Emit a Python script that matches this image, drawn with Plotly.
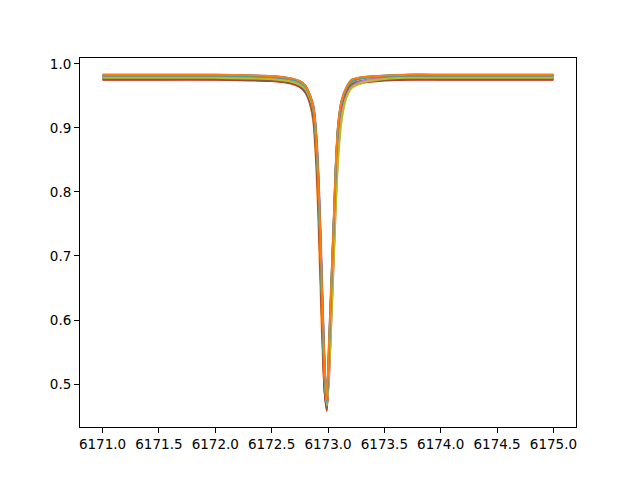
import plotly.graph_objects as go

wavelength = [6171.0, 6171.5, 6172.0, 6172.3, 6172.5, 6172.65, 6172.75, 6172.8, 6172.84, 6172.87,
              6172.89, 6172.91, 6172.93, 6172.95, 6172.97, 6172.99, 6173.01, 6173.03, 6173.05, 6173.07,
              6173.09, 6173.12, 6173.16, 6173.21, 6173.3, 6173.45, 6173.7, 6174.0, 6174.5, 6175.0]

flux_01 = [0.978, 0.978, 0.978, 0.977, 0.975, 0.971, 0.964, 0.955, 0.938, 0.912, 0.87, 0.80, 0.70, 0.585, 0.49,
           0.462, 0.53, 0.625, 0.72, 0.815, 0.88, 0.93, 0.953, 0.966, 0.973, 0.976, 0.978, 0.978, 0.978, 0.978]
flux_02 = [0.983, 0.983, 0.983, 0.982, 0.981, 0.978, 0.973, 0.966, 0.951, 0.933, 0.90, 0.84, 0.745, 0.63, 0.525,
           0.475, 0.57, 0.66, 0.75, 0.845, 0.905, 0.942, 0.962, 0.975, 0.979, 0.981, 0.983, 0.983, 0.983, 0.983]
flux_03 = [0.976, 0.976, 0.976, 0.975, 0.974, 0.971, 0.965, 0.957, 0.938, 0.91, 0.86, 0.78, 0.67, 0.56, 0.49,
           0.47, 0.55, 0.65, 0.745, 0.84, 0.90, 0.938, 0.958, 0.969, 0.973, 0.975, 0.976, 0.976, 0.976, 0.976]
flux_04 = [0.977, 0.977, 0.977, 0.976, 0.975, 0.972, 0.966, 0.958, 0.943, 0.922, 0.88, 0.815, 0.715, 0.60, 0.50,
           0.465, 0.545, 0.64, 0.735, 0.83, 0.893, 0.935, 0.956, 0.968, 0.973, 0.975, 0.977, 0.977, 0.977, 0.977]
flux_05 = [0.975, 0.975, 0.975, 0.974, 0.973, 0.970, 0.964, 0.956, 0.941, 0.92, 0.878, 0.81, 0.705, 0.59, 0.49,
           0.458, 0.535, 0.63, 0.725, 0.82, 0.885, 0.93, 0.952, 0.964, 0.970, 0.973, 0.975, 0.975, 0.975, 0.975]
flux_06 = [0.979, 0.979, 0.979, 0.978, 0.977, 0.974, 0.969, 0.962, 0.949, 0.935, 0.905, 0.85, 0.76, 0.645, 0.535,
           0.47, 0.52, 0.61, 0.70, 0.795, 0.87, 0.925, 0.952, 0.966, 0.973, 0.977, 0.979, 0.979, 0.979, 0.979]
flux_07 = [0.976, 0.976, 0.976, 0.975, 0.974, 0.971, 0.965, 0.957, 0.941, 0.918, 0.875, 0.805, 0.70, 0.585, 0.495,
           0.46, 0.54, 0.635, 0.73, 0.825, 0.888, 0.932, 0.954, 0.966, 0.971, 0.974, 0.976, 0.976, 0.976, 0.976]
flux_08 = [0.980, 0.980, 0.980, 0.979, 0.978, 0.975, 0.970, 0.963, 0.950, 0.933, 0.90, 0.84, 0.745, 0.63, 0.525,
           0.468, 0.51, 0.60, 0.69, 0.785, 0.86, 0.918, 0.948, 0.964, 0.972, 0.977, 0.980, 0.980, 0.980, 0.980]
flux_09 = [0.981, 0.981, 0.981, 0.980, 0.979, 0.976, 0.971, 0.963, 0.948, 0.928, 0.892, 0.83, 0.73, 0.615, 0.515,
           0.472, 0.555, 0.65, 0.745, 0.84, 0.90, 0.94, 0.96, 0.972, 0.977, 0.979, 0.981, 0.981, 0.981, 0.981]
flux_10 = [0.978, 0.978, 0.978, 0.977, 0.976, 0.973, 0.967, 0.960, 0.946, 0.928, 0.89, 0.828, 0.73, 0.615, 0.51,
           0.466, 0.52, 0.60, 0.69, 0.78, 0.85, 0.91, 0.945, 0.962, 0.970, 0.975, 0.978, 0.978, 0.978, 0.978]
flux_11 = [0.982, 0.982, 0.982, 0.981, 0.980, 0.977, 0.971, 0.964, 0.950, 0.932, 0.896, 0.835, 0.738, 0.622, 0.518,
           0.47, 0.56, 0.655, 0.748, 0.842, 0.902, 0.94, 0.96, 0.973, 0.978, 0.980, 0.982, 0.982, 0.982, 0.982]
flux_12 = [0.983, 0.983, 0.983, 0.982, 0.981, 0.978, 0.973, 0.966, 0.951, 0.933, 0.90, 0.84, 0.745, 0.63, 0.525,
           0.475, 0.57, 0.66, 0.75, 0.845, 0.905, 0.942, 0.962, 0.975, 0.979, 0.981, 0.983, 0.983, 0.983, 0.983]

series = [flux_01, flux_03, flux_04, flux_05, flux_06, flux_07, flux_08, flux_09, flux_10, flux_11, flux_02, flux_12]
colors = ["#1f77b4", "#ff7f0e", "#2ca02c", "#d62728", "#9467bd",
          "#8c564b", "#e377c2", "#7f7f7f", "#bcbd22", "#17becf"]

x_ticks = [6171.0, 6171.5, 6172.0, 6172.5, 6173.0, 6173.5, 6174.0, 6174.5, 6175.0]
y_ticks = [0.5, 0.6, 0.7, 0.8, 0.9, 1.0]

fig = go.Figure()
for i, f in enumerate(series):
    fig.add_trace(go.Scatter(
        x=wavelength, y=f, mode="lines",
        line=dict(color=colors[i % 10], width=2, shape="spline", smoothing=0.6),
        showlegend=False, hoverinfo="skip"))

axis_common = dict(showline=True, linecolor="black", linewidth=1, mirror=True,
                   ticks="outside", ticklen=5, tickwidth=1, tickcolor="black",
                   showgrid=False, zeroline=False,
                   tickfont=dict(family="DejaVu Sans", size=13.5, color="black"))

fig.update_layout(
    width=640, height=480,
    margin=dict(l=80, r=64, t=58, b=53),
    paper_bgcolor="white", plot_bgcolor="white",
    xaxis=dict(range=[6170.8, 6175.2], tickvals=x_ticks,
               ticktext=[f"{v:.1f}" for v in x_ticks], **axis_common),
    yaxis=dict(range=[0.433, 1.009], tickvals=y_ticks,
               ticktext=[f"{v:.1f}" for v in y_ticks], **axis_common),
)

fig.write_html("out.html")
